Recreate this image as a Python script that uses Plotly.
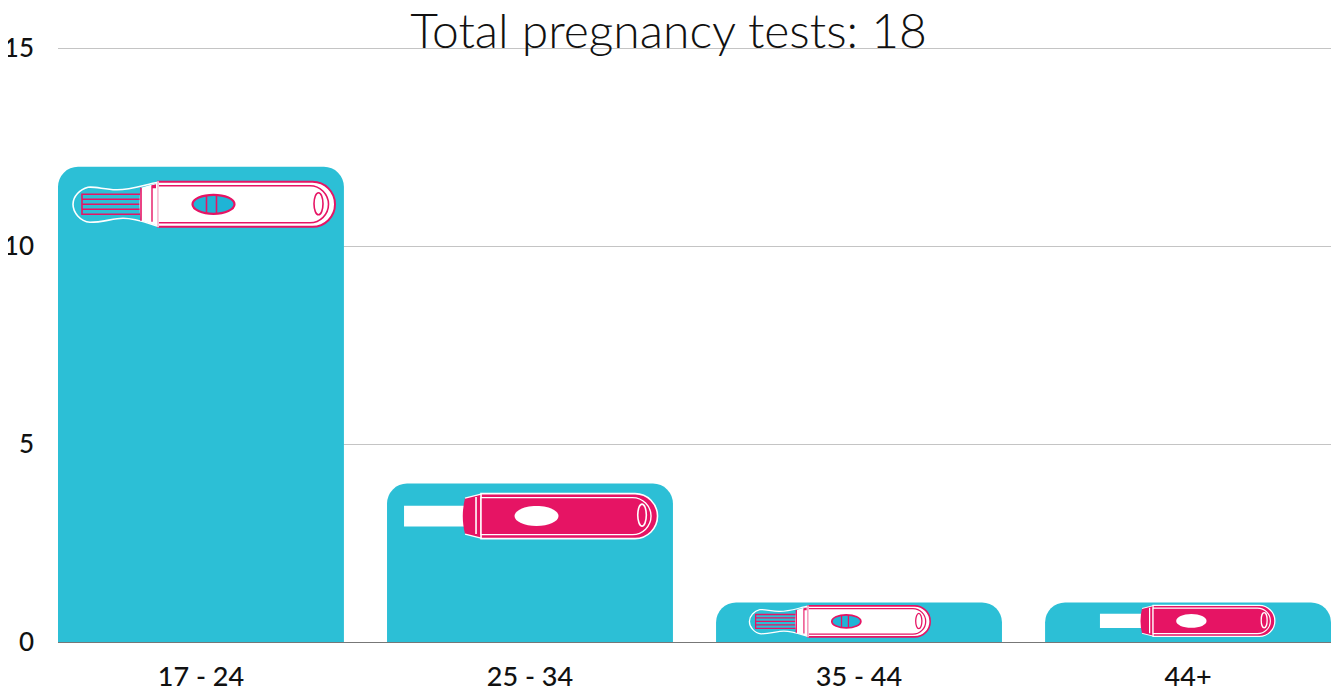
import plotly.graph_objects as go

TITLE = "Total pregnancy tests: 18"
age_groups = ["17 - 24", "25 - 34", "35 - 44", "44+"]
test_counts = [12, 4, 1, 1]
y_ticks = [0, 5, 10, 15]

TEAL = "#2CBFD6"
WINDOW = "#1FB4D6"
MAGENTA = "#E61464"
WHITE = "#FFFFFF"
FONT = "Lato"
TICK_FONT = "Lato Medium, Lato"
BAR_W = 0.869
Y_TOP = 15.0505  # a hair above 15 so that the top gridline is kept
FIG_H = 688

# Icon style per bar: (positive, dx from bar left, dy below bar top, scale)
icons = [
    (True, 100, 37.5, 1.0),
    (False, 94, 32.5, 1.0),
    (True, 92, 19.0, 0.69),
    (False, 108, 18.5, 0.69),
]


def rounded_body(length, half):
    k = 0.55 * half
    c = length - half
    return [("M", (0, half)), ("L", (c, half)),
            ("C", (c + k, half), (length, k), (length, 0)),
            ("C", (length, -k), (c + k, -half), (c, -half)),
            ("L", (0, -half)), ("Z",)]


def ellipse(cx, cy, rx, ry):
    kx, ky = 0.5523 * rx, 0.5523 * ry
    return [("M", (cx - rx, cy)),
            ("C", (cx - rx, cy + ky), (cx - kx, cy + ry), (cx, cy + ry)),
            ("C", (cx + kx, cy + ry), (cx + rx, cy + ky), (cx + rx, cy)),
            ("C", (cx + rx, cy - ky), (cx + kx, cy - ry), (cx, cy - ry)),
            ("C", (cx - kx, cy - ry), (cx - rx, cy - ky), (cx - rx, cy)), ("Z",)]


def poly(pts, close=True):
    cmds = [("M", pts[0])] + [("L", p) for p in pts[1:]]
    return cmds + ([("Z",)] if close else [])


def path_str(cmds, dx, dy, s):
    out = []
    for c in cmds:
        pts = " ".join(f"{dx + p[0] * s:.2f},{-dy + p[1] * s:.2f}" for p in c[1:])
        out.append(c[0] + pts)
    return " ".join(out)


def icon_shapes(bar_left, value, positive, dx, dy, s):
    shapes = []

    def add(cmds, fill=None, line=None, w=1.0):
        shape = dict(type="path", layer="above", xref="x", yref="y",
                     xsizemode="pixel", ysizemode="pixel",
                     xanchor=bar_left, yanchor=value,
                     path=path_str(cmds, dx, dy, s),
                     line=dict(color=line or "rgba(0,0,0,0)", width=(w * max(s, 0.8)) if line else 0))
        if fill:
            shape["fillcolor"] = fill
        shapes.append(shape)

    if positive:
        handle = [("M", (0, 22)),
                  ("C", (-12, 20), (-28, 14), (-42, 14.5)),
                  ("C", (-54, 15), (-64, 18), (-70, 17)),
                  ("C", (-78, 15), (-85, 8), (-85, 0)),
                  ("C", (-85, -8), (-78, -17), (-68, -18)),
                  ("C", (-55, -18), (-45, -14), (-35, -14)),
                  ("C", (-22, -14), (-10, -19), (0, -22))]
        add(handle, None, WHITE, 1.6)
        add(poly([(-76, 10), (-17, 10), (-17, -10), (-76, -10)]), TEAL, MAGENTA, 1.6)
        for yy in (5, 0, -5):
            add(poly([(-76, yy), (-17, yy)], False), None, MAGENTA, 1.6)
        cap = [("M", (-17, 16.5)), ("L", (0, 21.5)), ("L", (0, -21.5)), ("L", (-17, -16.5)),
               ("C", (-19, -6), (-19, 6), (-17, 16.5)), ("Z",)]
        add(cap, WHITE, None)
        add(poly([(-17, 16.5), (-17, -16.5)], False), None, MAGENTA, 1.6)
        add(poly([(-6, 19), (-6, -17.5)], False), None, MAGENTA, 1.4)
        add(poly([(-6, 19), (-2, 20), (-2, 16), (-6, 16)]), MAGENTA, None)
        add(rounded_body(177, 22.5), WHITE, MAGENTA, 2.0)
        add(rounded_body(170.5, 18.5), WHITE, MAGENTA, 1.6)
        add(poly([(0, 23), (0, -23)], False), None, WHITE, 1.5)
        add(ellipse(55.5, 0, 21, 9.5), WINDOW, MAGENTA, 2.2)
        for xx in (48.5, 58.5):
            add(poly([(xx, 9), (xx, -9)], False), None, MAGENTA, 1.6)
        add(ellipse(160.5, 0.5, 4.5, 11), WHITE, MAGENTA, 1.6)
    else:
        add(poly([(-77, 10.3), (-17, 10.3), (-17, -10.3), (-77, -10.3)]), WHITE, None)
        cap = [("M", (-16, 18)), ("L", (0, 22)), ("L", (0, -22)), ("L", (-16, -18)),
               ("C", (-19, -6), (-19, 6), (-16, 18)), ("Z",)]
        add(cap, MAGENTA, None)
        add(poly([(-16, 18), (0, 22)], False), None, WHITE, 1.2)
        add(poly([(-16, -18), (0, -22)], False), None, WHITE, 1.2)
        add(poly([(-5, 19), (-5, -18)], False), None, WHITE, 1.6)
        add(rounded_body(176.5, 22.5), MAGENTA, WHITE, 1.6)
        add(rounded_body(170, 18.5), MAGENTA, WHITE, 1.4)
        add(ellipse(55.5, 0, 22, 10), WHITE, None)
        add(ellipse(161, 1, 4.3, 11), MAGENTA, WHITE, 1.6)
    return shapes


x_pos = list(range(len(age_groups)))

fig = go.Figure(go.Bar(x=x_pos, y=test_counts, width=BAR_W, marker=dict(color=TEAL, line_width=0),
                       hoverinfo="x+y"))

shapes = []
for i, (val, ic) in enumerate(zip(test_counts, icons)):
    shapes += icon_shapes(i - BAR_W / 2, val, *ic)

fig.update_layout(
    width=1324, height=FIG_H, autosize=False,
    margin=dict(l=50, r=1, t=38, b=FIG_H - 634, pad=0, autoexpand=False),
    paper_bgcolor=WHITE, plot_bgcolor=WHITE,
    showlegend=False, barcornerradius=20,
    font=dict(family=FONT, color="#111111"),
    title=dict(text=TITLE, xref="container", x=0.4989, xanchor="center",
               yref="container", y=1 - 23 / FIG_H, yanchor="middle", automargin=False,
               font=dict(family=FONT, size=48, weight=300, color="#111111")),
    xaxis=dict(range=[-BAR_W / 2, 3 + BAR_W / 2], tickmode="array", tickvals=x_pos, ticktext=age_groups,
               showgrid=False, zeroline=False, showline=False, ticks="", automargin=False,
               tickfont=dict(family=TICK_FONT, size=27, color="#111111"), ticklabelstandoff=16),
    yaxis=dict(range=[0, Y_TOP], tickmode="array", tickvals=y_ticks, showgrid=True, gridcolor="#C4C4C4",
               gridwidth=1, zeroline=True, zerolinecolor="#777777", zerolinewidth=1,
               ticks="", showline=False, ticklabelstandoff=23, automargin=False,
               tickfont=dict(family=TICK_FONT, size=26, color="#111111")),
    shapes=shapes,
)

fig.write_html("out.html")
